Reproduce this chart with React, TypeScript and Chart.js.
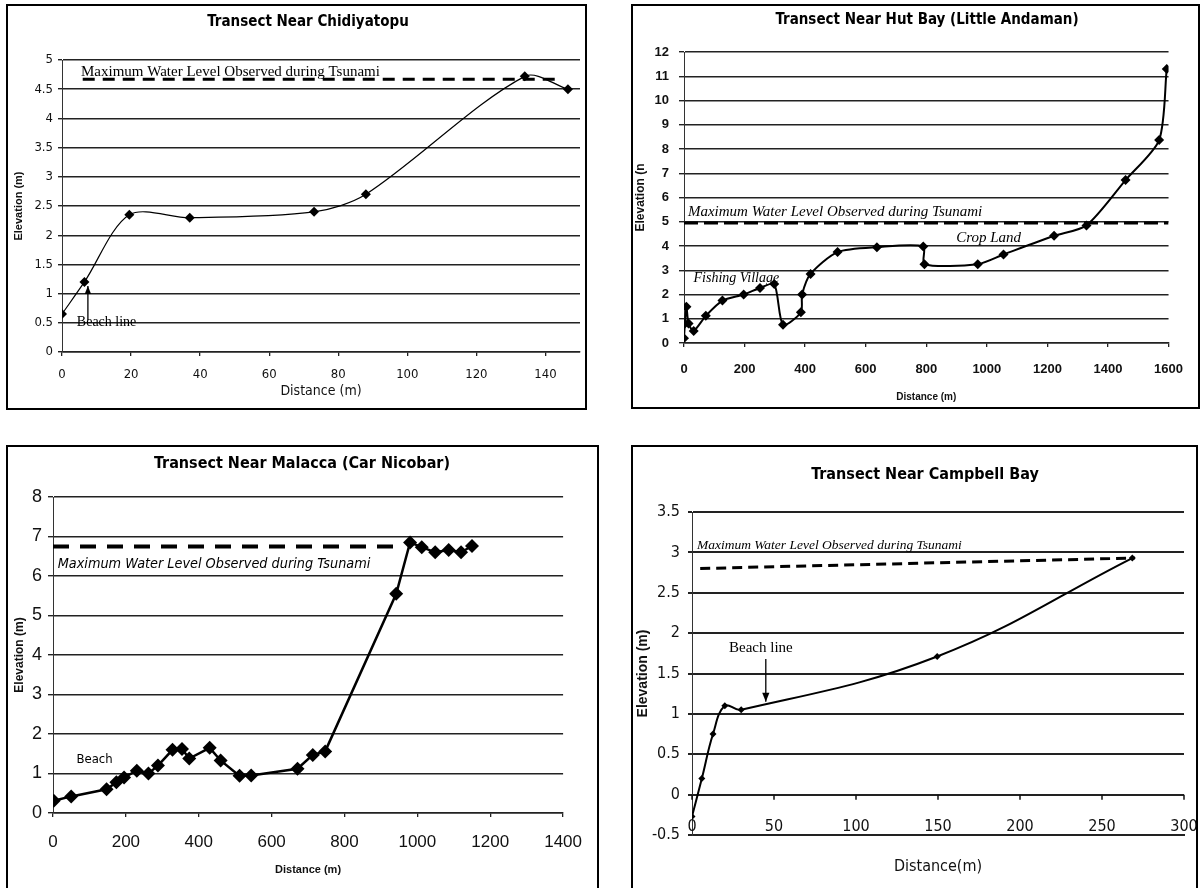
import React, { useEffect, useRef } from "react";
import { Chart, registerables } from "chart.js";

Chart.register(...registerables);

// ---------- Panel 1: Chidiyatopu ----------
const chidDistance = [0, 6.5, 19.5, 37, 73, 88, 134, 146.5];
const chidElevation = [0.65, 1.2, 2.35, 2.3, 2.4, 2.7, 4.72, 4.5];
const chidWaterDistance = [6, 143];
const chidWaterLevel = [4.67, 4.67];
const chidXTicks = [0, 20, 40, 60, 80, 100, 120, 140];
const chidYTicks = [0, 0.5, 1, 1.5, 2, 2.5, 3, 3.5, 4, 4.5, 5];

// ---------- Panel 2: Hut Bay ----------
const hutDistance = [0, 3, 8, 15, 32, 72, 127, 197, 251, 298, 327, 386, 390, 418, 507, 637, 790, 794, 970, 1055, 1222, 1329, 1458, 1569, 1594];
const hutElevation = [0.2, 0.8, 1.5, 0.8, 0.5, 1.12, 1.75, 2.0, 2.27, 2.43, 0.75, 1.27, 2.0, 2.85, 3.75, 3.95, 3.98, 3.25, 3.25, 3.65, 4.42, 4.85, 6.72, 8.37, 11.3];
const hutWaterDistance = [0, 1600];
const hutWaterLevel = [4.95, 4.95];
const hutXTicks = [0, 200, 400, 600, 800, 1000, 1200, 1400, 1600];
const hutYTicks = [0, 1, 2, 3, 4, 5, 6, 7, 8, 9, 10, 11, 12];

// ---------- Panel 3: Malacca ----------
const malDistance = [2, 50, 147, 174, 195, 230, 262, 288, 328, 354, 374, 430, 460, 512, 544, 671, 713, 747, 942, 980, 1012, 1049, 1086, 1120, 1150];
const malElevation = [0.31, 0.42, 0.6, 0.78, 0.9, 1.07, 1.0, 1.2, 1.6, 1.62, 1.38, 1.65, 1.33, 0.94, 0.95, 1.12, 1.47, 1.56, 5.55, 6.85, 6.73, 6.6, 6.66, 6.6, 6.76];
const malWaterDistance = [0, 940];
const malWaterLevel = [6.75, 6.75];
const malXTicks = [0, 200, 400, 600, 800, 1000, 1200, 1400];
const malYTicks = [0, 1, 2, 3, 4, 5, 6, 7, 8];

// ---------- Panel 4: Campbell Bay ----------
const camDistance = [0, 6, 12.8, 20, 30, 149.5, 268.5];
const camElevation = [-0.27, 0.2, 0.75, 1.1, 1.05, 1.71, 2.93];
const camWaterDistance = [5, 270];
const camWaterLevel = [2.8, 2.93];
const camXTicks = [0, 50, 100, 150, 200, 250, 300];
const camYTicks = [-0.5, 0, 0.5, 1, 1.5, 2, 2.5, 3, 3.5];

const SANS = '"Liberation Sans", Arial, sans-serif';
const NARROW = '"Liberation Sans Narrow", "DejaVu Sans Condensed", "Liberation Sans", sans-serif';
const SERIF = '"Liberation Serif", "Times New Roman", serif';

const pts = (xs: number[], ys: number[]) => xs.map((x, i) => ({ x, y: ys[i] }));

const overlayPlugin = {
  id: "overlay",
  afterDatasetsDraw(chart: any, _args: any, opts: any) {
    const ctx = chart.ctx;
    const xs = chart.scales.x;
    const ys = chart.scales.y;
    ctx.save();
    if (opts.zeroTicks) {
      const y0 = ys.getPixelForValue(0);
      ctx.strokeStyle = "#111";
      ctx.lineWidth = 1.5;
      xs.ticks.forEach((tk: any) => {
        const x = xs.getPixelForValue(tk.value);
        ctx.beginPath();
        ctx.moveTo(x, y0);
        ctx.lineTo(x, y0 + 5);
        ctx.stroke();
      });
    }
    if (opts.innerLabels) {
      const yb = ys.getPixelForValue(ys.min) - opts.innerLabels.lift;
      ctx.font = opts.innerLabels.font;
      ctx.fillStyle = "#111";
      ctx.textAlign = "center";
      ctx.textBaseline = "middle";
      xs.ticks.forEach((tk: any) => {
        ctx.fillText(String(tk.value), xs.getPixelForValue(tk.value), yb);
      });
    }
    (opts.arrows || []).forEach((a: any) => {
      const x = xs.getPixelForValue(a.x);
      const y1 = ys.getPixelForValue(a.from);
      const y2 = ys.getPixelForValue(a.to);
      ctx.strokeStyle = "#000";
      ctx.fillStyle = "#000";
      ctx.lineWidth = 1.3;
      ctx.beginPath();
      ctx.moveTo(x, y1);
      ctx.lineTo(x, y2);
      ctx.stroke();
      const dir = y2 < y1 ? 1 : -1;
      ctx.beginPath();
      ctx.moveTo(x, y2);
      ctx.lineTo(x - a.head / 2.5, y2 + dir * a.head);
      ctx.lineTo(x + a.head / 2.5, y2 + dir * a.head);
      ctx.closePath();
      ctx.fill();
    });
    (opts.texts || []).forEach((t: any) => {
      ctx.font = t.font;
      ctx.fillStyle = "#000";
      ctx.textAlign = t.align || "left";
      ctx.textBaseline = "middle";
      ctx.fillText(t.text, xs.getPixelForValue(t.x), ys.getPixelForValue(t.y));
    });
    ctx.restore();
  },
  afterDraw(chart: any, _args: any, opts: any) {
    const h = opts.heading;
    if (!h) return;
    const ctx = chart.ctx;
    ctx.save();
    ctx.font = h.font;
    ctx.fillStyle = "#000";
    ctx.textAlign = "center";
    ctx.textBaseline = "middle";
    ctx.fillText(h.text, h.x, h.y);
    ctx.restore();
  },
};

type Spec = {
  heading: any;
  xMin: number; xMax: number; xTicks: number[];
  yMin: number; yMax: number; yTicks: number[];
  area: { left: number; top: number; right: number; bottom: number };
  yTickFont: any; xTickFont: any;
  yTickLen: number; yTickPad: number;
  xTickLen: number; xTickPad: number; xGrid: boolean; xLabels: boolean;
  yTitle: string; yTitleFont: any; yTitlePad: number;
  xTitle: string; xTitleFont: any; xTitlePad: number;
  gridWidth: number;
  main: { x: number[]; y: number[]; width: number; radius: number; tension: number };
  water: { x: number[]; y: number[]; width: number; dash: number[] };
  texts: any[]; arrows: any[]; zeroTicks?: boolean; innerLabels?: any;
};

function buildConfig(s: Spec, w: number, h: number): any {
  return {
    type: "scatter",
    data: {
      datasets: [
        {
          data: pts(s.water.x, s.water.y),
          showLine: true,
          borderColor: "#000",
          borderWidth: s.water.width,
          borderDash: s.water.dash,
          pointRadius: 0,
          tension: 0,
        },
        {
          data: pts(s.main.x, s.main.y),
          showLine: true,
          borderColor: "#000",
          backgroundColor: "#000",
          borderWidth: s.main.width,
          pointStyle: "rectRot",
          pointRadius: s.main.radius,
          pointBorderWidth: 0,
          pointBackgroundColor: "#000",
          tension: s.main.tension,
        },
      ],
    },
    options: {
      responsive: false,
      animation: false,
      devicePixelRatio: 1,
      events: [],
      layout: { padding: { left: 0, top: s.area.top, right: w - s.area.right, bottom: 0 } },
      plugins: {
        legend: { display: false },
        title: { display: false },
        tooltip: { enabled: false },
        overlay: {
          heading: s.heading,
          texts: s.texts,
          arrows: s.arrows,
          zeroTicks: s.zeroTicks,
          innerLabels: s.innerLabels,
        },
      },
      scales: {
        x: {
          type: "linear",
          min: s.xMin,
          max: s.xMax,
          afterFit: (sc: any) => { sc.height = h - s.area.bottom; },
          afterBuildTicks: (sc: any) => { sc.ticks = s.xTicks.map((v) => ({ value: v })); },
          grid: s.xGrid
            ? { display: true, drawOnChartArea: false, drawTicks: true, tickLength: s.xTickLen, color: "#222", lineWidth: 1.3 }
            : { display: false, drawTicks: false },
          border: { display: true, color: "#222", width: s.gridWidth },
          ticks: {
            display: s.xLabels,
            autoSkip: false,
            maxRotation: 0,
            color: "#111",
            font: s.xTickFont,
            padding: s.xTickPad,
            callback: (v: any) => String(v),
          },
          title: { display: true, text: s.xTitle, color: "#111", font: s.xTitleFont, padding: { top: 0, bottom: s.xTitlePad } },
        },
        y: {
          type: "linear",
          min: s.yMin,
          max: s.yMax,
          afterFit: (sc: any) => { sc.width = s.area.left; },
          afterBuildTicks: (sc: any) => { sc.ticks = s.yTicks.map((v) => ({ value: v })); },
          grid: { display: true, drawTicks: true, tickLength: s.yTickLen, color: "#222", lineWidth: s.gridWidth },
          border: { display: true, color: "#333", width: 1 },
          ticks: {
            autoSkip: false,
            color: "#111",
            font: s.yTickFont,
            padding: s.yTickPad,
            callback: (v: any) => String(v),
          },
          title: { display: true, text: s.yTitle, color: "#111", font: s.yTitleFont, padding: { top: s.yTitlePad, bottom: 0 } },
        },
      },
    },
    plugins: [overlayPlugin],
  };
}

const panels: { box: { x: number; y: number; w: number; h: number }; spec: Spec }[] = [
  {
    box: { x: 6, y: 4, w: 581, h: 406 },
    spec: {
      heading: { text: "Transect Near Chidiyatopu", x: 300, y: 16, font: `bold 15px ${NARROW}` },
      xMin: 0, xMax: 150, xTicks: chidXTicks,
      yMin: 0, yMax: 5, yTicks: chidYTicks,
      area: { left: 54, top: 54, right: 575, bottom: 346 },
      yTickFont: { family: NARROW, size: 13 }, xTickFont: { family: NARROW, size: 13 },
      yTickLen: 4, yTickPad: 5, xTickLen: 4, xTickPad: 11, xGrid: true, xLabels: true,
      yTitle: "Elevation (m)", yTitleFont: { family: SANS, size: 11, weight: "bold" }, yTitlePad: 4,
      xTitle: "Distance (m)", xTitleFont: { family: NARROW, size: 14 }, xTitlePad: 8,
      gridWidth: 1.4,
      main: { x: chidDistance, y: chidElevation, width: 1.2, radius: 5, tension: 0.3 },
      water: { x: chidWaterDistance, y: chidWaterLevel, width: 3, dash: [12, 8] },
      texts: [
        { text: "Maximum Water Level Observed during Tsunami", x: 5.5, y: 4.79, font: `15px ${SERIF}` },
        { text: "Beach line", x: 4.3, y: 0.5, font: `14px ${SERIF}` },
      ],
      arrows: [{ x: 7.5, from: 0.55, to: 1.13, head: 8 }],
    },
  },
  {
    box: { x: 631, y: 4, w: 569, h: 405 },
    spec: {
      heading: { text: "Transect Near Hut Bay (Little Andaman)", x: 294, y: 14, font: `bold 15px ${NARROW}` },
      xMin: 0, xMax: 1600, xTicks: hutXTicks,
      yMin: 0, yMax: 12, yTicks: hutYTicks,
      area: { left: 51, top: 46, right: 550, bottom: 337 },
      yTickFont: { family: SANS, size: 13, weight: "bold" }, xTickFont: { family: SANS, size: 13, weight: "bold" },
      yTickLen: 5, yTickPad: 10, xTickLen: 4, xTickPad: 15, xGrid: true, xLabels: true,
      yTitle: "Elevation (n", yTitleFont: { family: SANS, size: 12, weight: "bold" }, yTitlePad: 0,
      xTitle: "Distance (m)", xTitleFont: { family: SANS, size: 10, weight: "bold" }, xTitlePad: 4,
      gridWidth: 1.4,
      main: { x: hutDistance, y: hutElevation, width: 2, radius: 5, tension: 0.25 },
      water: { x: hutWaterDistance, y: hutWaterLevel, width: 3, dash: [14, 6] },
      texts: [
        { text: "Maximum Water Level Observed during Tsunami", x: 13, y: 5.4, font: `italic 15px ${SERIF}` },
        { text: "Crop Land", x: 1006, y: 4.33, font: `italic 15px ${SERIF}`, align: "center" },
        { text: "Fishing Village", x: 173, y: 2.68, font: `italic 14px ${SERIF}`, align: "center" },
      ],
      arrows: [],
    },
  },
  {
    box: { x: 6, y: 445, w: 593, h: 445 },
    spec: {
      heading: { text: "Transect Near Malacca (Car Nicobar)", x: 294, y: 17, font: `bold 16px ${NARROW}` },
      xMin: 0, xMax: 1400, xTicks: malXTicks,
      yMin: 0, yMax: 8, yTicks: malYTicks,
      area: { left: 45, top: 50, right: 574, bottom: 366 },
      yTickFont: { family: SANS, size: 18 }, xTickFont: { family: SANS, size: 17 },
      yTickLen: 5, yTickPad: 6, xTickLen: 4, xTickPad: 15, xGrid: true, xLabels: true,
      yTitle: "Elevation (m)", yTitleFont: { family: SANS, size: 12, weight: "bold" }, yTitlePad: 4,
      xTitle: "Distance (m)", xTitleFont: { family: SANS, size: 11, weight: "bold" }, xTitlePad: 11,
      gridWidth: 1.4,
      main: { x: malDistance, y: malElevation, width: 2.5, radius: 7, tension: 0 },
      water: { x: malWaterDistance, y: malWaterLevel, width: 4, dash: [16, 11] },
      texts: [
        { text: "Maximum Water Level Observed during Tsunami", x: 13, y: 6.3, font: `italic 14.3px ${NARROW}` },
        { text: "Beach", x: 114, y: 1.34, font: `13px ${NARROW}`, align: "center" },
      ],
      arrows: [],
    },
  },
  {
    box: { x: 631, y: 445, w: 567, h: 445 },
    spec: {
      heading: { text: "Transect Near Campbell Bay", x: 292, y: 28, font: `bold 16px ${NARROW}` },
      xMin: 0, xMax: 300, xTicks: camXTicks,
      yMin: -0.5, yMax: 3.5, yTicks: camYTicks,
      area: { left: 59, top: 65, right: 551, bottom: 388 },
      yTickFont: { family: NARROW, size: 16 }, xTickFont: { family: NARROW, size: 16 },
      yTickLen: 4, yTickPad: 8, xTickLen: 0, xTickPad: 0, xGrid: false, xLabels: false,
      yTitle: "Elevation (m)", yTitleFont: { family: SANS, size: 14, weight: "bold" }, yTitlePad: 2,
      xTitle: "Distance(m)", xTitleFont: { family: NARROW, size: 16 }, xTitlePad: 12,
      gridWidth: 2,
      main: { x: camDistance, y: camElevation, width: 2, radius: 3.5, tension: 0.4 },
      water: { x: camWaterDistance, y: camWaterLevel, width: 3, dash: [10, 6] },
      texts: [
        { text: "Maximum Water Level Observed during Tsunami", x: 3, y: 3.08, font: `italic 13.5px ${SERIF}` },
        { text: "Beach line", x: 42, y: 1.82, font: `15px ${SERIF}`, align: "center" },
      ],
      arrows: [{ x: 45, from: 1.68, to: 1.15, head: 9 }],
      zeroTicks: true,
      innerLabels: { font: `16px ${NARROW}`, lift: 8 },
    },
  },
];

function ChartPanel({ box, spec }: { box: { x: number; y: number; w: number; h: number }; spec: Spec }) {
  const ref = useRef<HTMLCanvasElement>(null);
  const cw = box.w - 4;
  const ch = box.h - 4;
  useEffect(() => {
    if (!ref.current) return;
    const chart = new Chart(ref.current, buildConfig(spec, cw, ch));
    return () => chart.destroy();
  }, []);
  return (
    <div
      style={{
        position: "absolute",
        left: box.x,
        top: box.y,
        width: box.w,
        height: box.h,
        border: "2px solid #000",
        boxSizing: "border-box",
        background: "#fff",
      }}
    >
      <canvas ref={ref} width={cw} height={ch} style={{ display: "block", width: cw, height: ch }} />
    </div>
  );
}

export default function App() {
  return (
    <div
      style={{
        position: "absolute",
        left: 0,
        top: 0,
        width: 1203,
        height: 888,
        overflow: "hidden",
        background: "#fff",
      }}
    >
      {panels.map((p, i) => (
        <ChartPanel key={i} box={p.box} spec={p.spec} />
      ))}
    </div>
  );
}
